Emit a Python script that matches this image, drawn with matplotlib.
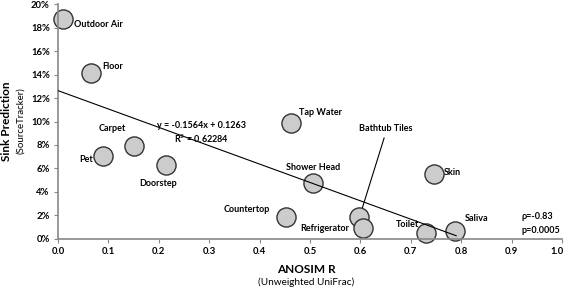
import matplotlib.pyplot as plt
import matplotlib.transforms as mtransforms
import numpy as np

plt.rcParams['font.family'] = ['Lato', 'DejaVu Sans']

names = ['Outdoor Air', 'Floor', 'Carpet', 'Pet', 'Doorstep', 'Countertop',
         'Shower Head', 'Tap Water', 'Bathtub Tiles', 'Refrigerator',
         'Toilet', 'Saliva', 'Skin']
anosim_r = [0.01, 0.065, 0.15, 0.09, 0.215, 0.452, 0.505, 0.463,
            0.598, 0.606, 0.73, 0.787, 0.745]
sink_pred = [0.187, 0.141, 0.079, 0.071, 0.063, 0.019, 0.048, 0.099,
             0.019, 0.009, 0.005, 0.007, 0.055]

slope = -0.1564
intercept = 0.1263

# label positions (x, y, ha)
label_pos = {
    'Outdoor Air': (0.032, 0.183, 'left'),
    'Floor': (0.087, 0.147, 'left'),
    'Carpet': (0.107, 0.094, 'center'),
    'Pet': (0.069, 0.068, 'right'),
    'Doorstep': (0.198, 0.047, 'center'),
    'Countertop': (0.374, 0.025, 'center'),
    'Shower Head': (0.507, 0.061, 'center'),
    'Tap Water': (0.479, 0.108, 'left'),
    'Bathtub Tiles': (0.65, 0.094, 'center'),
    'Refrigerator': (0.53, 0.0085, 'center'),
    'Toilet': (0.693, 0.012, 'center'),
    'Saliva': (0.83, 0.017, 'center'),
    'Skin': (0.766, 0.057, 'left'),
}

fig = plt.figure(figsize=(5.67, 2.90), dpi=100)
ax = fig.add_axes([0.1023, 0.176, 0.889, 0.81])

xl = np.array([0.0, 0.79])
ax.plot(xl, slope * xl + intercept, color='black', lw=0.8, zorder=3)
ax.scatter(anosim_r, sink_pred, s=190, facecolor='#cccccc', edgecolor='#333333',
           linewidth=1.0, zorder=2, clip_on=False)

for n in names:
    x, y, ha = label_pos[n]
    ax.text(x, y, n, ha=ha, va='center', fontsize=6.5, fontweight='bold')

ax.plot([0.647, 0.602], [0.086, 0.024], color='black', lw=0.8, zorder=1)

ax.text(0.284, 0.097, 'y = -0.1564x + 0.1263', ha='center', va='center', fontsize=6.5,
        fontweight='bold')
ax.text(0.284, 0.085, 'R$^2$ = 0.62284', ha='center', va='center', fontsize=6.5,
        fontweight='bold')
ax.text(0.92, 0.019, 'ρ=-0.83', ha='left', va='center', fontsize=6.5, fontweight='bold')
ax.text(0.92, 0.007, 'p=0.0005', ha='left', va='center', fontsize=6.5, fontweight='bold')

ax.set_xlim(0, 1.0)
ax.set_ylim(0, 0.20)
ax.set_xticks(np.arange(0, 1.01, 0.1))
ax.set_xticklabels(['%.1f' % v for v in np.arange(0, 1.01, 0.1)])
ax.set_yticks(np.arange(0, 0.201, 0.02))
ax.set_yticklabels(['%d%%' % round(v * 100) for v in np.arange(0, 0.201, 0.02)])
for s in ['top', 'right']:
    ax.spines[s].set_visible(False)
for s in ['left', 'bottom']:
    ax.spines[s].set_color('#888888')
    ax.spines[s].set_linewidth(1.2)
ax.tick_params(direction='out', length=3, color='#888888', labelsize=6.8, pad=3)
for lab in ax.get_xticklabels() + ax.get_yticklabels():
    lab.set_fontweight('bold')

# keep the last x tick label inside the figure
last = ax.get_xticklabels()[-1]
last.set_transform(last.get_transform() +
                   mtransforms.ScaledTranslation(-5 / 100, 0, fig.dpi_scale_trans))

fig.text(0.54, 0.072, 'ANOSIM R', ha='center', va='center', fontsize=8.5, fontweight='bold')
fig.text(0.54, 0.028, '(Unweighted UniFrac)', ha='center', va='center', fontsize=7.2)
fig.text(0.012, 0.583, 'Sink Prediction', ha='center', va='center', fontsize=8.5,
         fontweight='bold', rotation=90)
fig.text(0.036, 0.583, '(SourceTracker)', ha='center', va='center', fontsize=7, rotation=90)

fig.savefig('out.png', dpi=100)
